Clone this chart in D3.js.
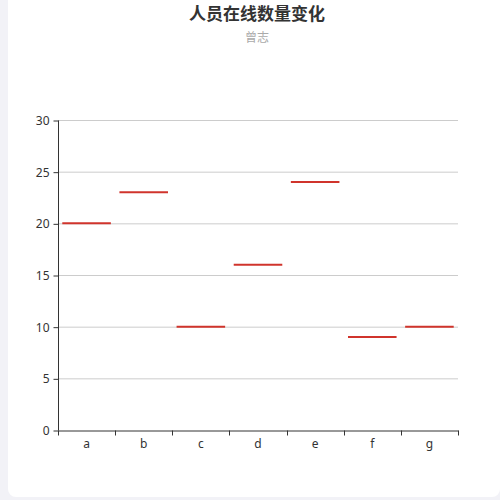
<!DOCTYPE html>
<html>
<head>
<meta charset="utf-8">
<script src="https://cdn.jsdelivr.net/npm/d3@7"></script>
<style>
  body { margin: 0; background: #f2f2f7; font-family: "Noto Sans CJK SC", "DejaVu Sans", sans-serif; }
  #card { position: absolute; left: 8px; top: 0; width: 492px; height: 497px; background: #fff; border-radius: 0 0 8px 8px; }
  svg { position: absolute; left: 0; top: 0; }
</style>
</head>
<body>
<div id="card"></div>
<svg id="chart" width="500" height="500"></svg>
<script>
var categories = ['a', 'b', 'c', 'd', 'e', 'f', 'g'];
var values = [20, 23, 10, 16, 24, 9, 10];
var yTicks = [0, 5, 10, 15, 20, 25, 30];

var svg = d3.select('#chart');
// plot box (note: "top" is reserved on window, so use other names)
var plotLeft = 58, plotRight = 458, plotTop = 120, plotBottom = 430;

var x = d3.scaleBand().domain(categories).range([plotLeft, plotRight]);
var y = d3.scaleLinear().domain([0, 30]).range([plotBottom, plotTop]);

// title
svg.append('text')
	.attr('x', 257).attr('y', 20)
	.attr('text-anchor', 'middle')
	.attr('font-size', 17).attr('font-weight', 'bold')
	.attr('fill', '#333')
	.text('人员在线数量变化');
svg.append('text')
	.attr('x', 257).attr('y', 42)
	.attr('text-anchor', 'middle')
	.attr('font-size', 12)
	.attr('fill', '#aaa')
	.text('曾志');

// grid lines
svg.append('g').selectAll('line')
	.data(yTicks.filter(function(d){ return d > 0; }))
	.enter().append('line')
	.attr('x1', plotLeft).attr('x2', plotRight)
	.attr('y1', function(d){ return y(d) + 0.5; })
	.attr('y2', function(d){ return y(d) + 0.5; })
	.attr('stroke', '#ccc');

// y axis
var yAxis = svg.append('g')
	.attr('transform', 'translate(' + (plotLeft + 0.5) + ',0.5)')
	.call(d3.axisLeft(y).tickValues(yTicks).tickSize(5).tickPadding(4));
yAxis.select('.domain').attr('stroke', '#333').attr('d', 'M0,' + plotTop + 'V' + plotBottom);
yAxis.selectAll('.tick line').attr('stroke', '#333');
yAxis.selectAll('text').attr('fill', '#333').attr('font-size', 12)
	.attr('font-family', '"Noto Sans", sans-serif');

// x axis
var xAxis = svg.append('g')
	.attr('transform', 'translate(0,' + (plotBottom + 0.5) + ')')
	.call(d3.axisBottom(x).tickSize(0).tickPadding(9));
xAxis.select('.domain').attr('stroke', '#333');
xAxis.selectAll('text').attr('fill', '#333').attr('font-size', 12)
	.attr('font-family', '"Noto Sans", sans-serif');
xAxis.selectAll('.bound')
	.data(d3.range(categories.length + 1))
	.enter().append('line')
	.attr('class', 'bound')
	.attr('x1', function(i){ return Math.round(plotLeft + i * x.step()) + 0.5; })
	.attr('x2', function(i){ return Math.round(plotLeft + i * x.step()) + 0.5; })
	.attr('y1', 0).attr('y2', 5)
	.attr('stroke', '#333');

// value marks
svg.append('g').selectAll('line')
	.data(values)
	.enter().append('line')
	.attr('x1', function(d, i){ return x(categories[i]) + x.bandwidth() * 0.075; })
	.attr('x2', function(d, i){ return x(categories[i]) + x.bandwidth() * 0.925; })
	.attr('y1', function(d){ return y(d); })
	.attr('y2', function(d){ return y(d); })
	.attr('stroke', '#d0342c')
	.attr('stroke-width', 2);
</script>
</body>
</html>
